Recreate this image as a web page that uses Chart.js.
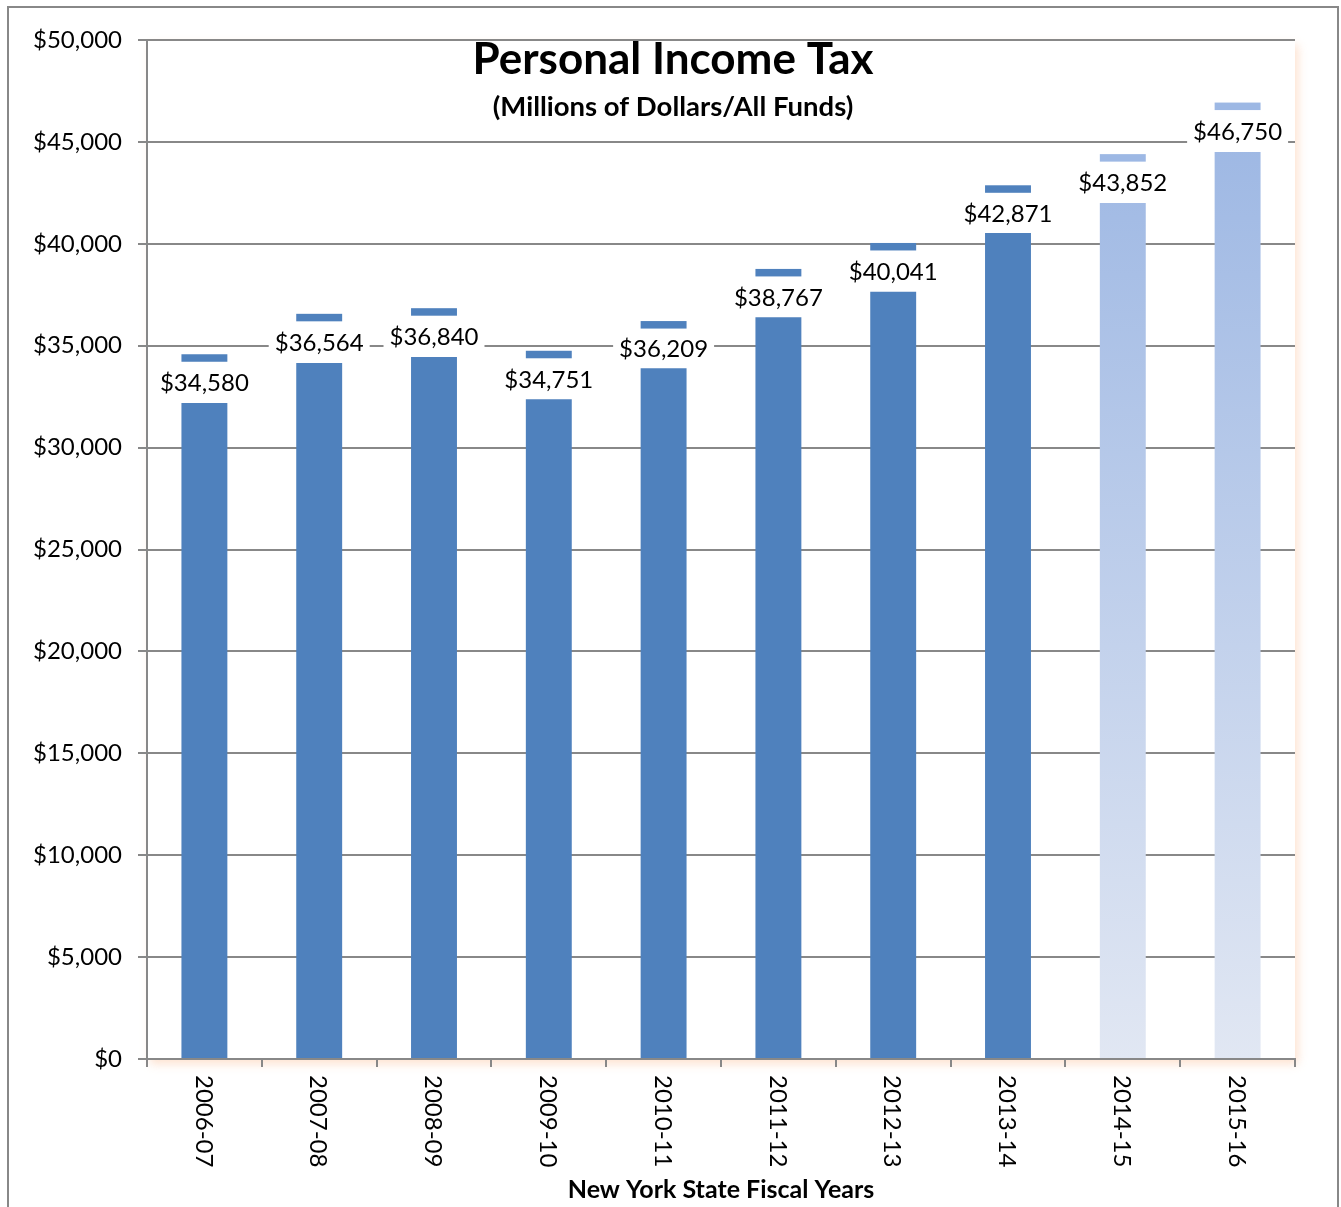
<!DOCTYPE html>
<html>
<head>
<meta charset="utf-8">
<script src="https://cdn.jsdelivr.net/npm/chart.js@4.4.1/dist/chart.umd.min.js"></script>
<style>
  html, body { margin: 0; padding: 0; background: #fff; }
  #wrap { width: 1341px; height: 1207px; position: relative; }
</style>
</head>
<body>
<div id="wrap"><canvas id="pitChart"></canvas></div>
<script>
// fiscal years and collections (millions of dollars)
const years = ['2006-07', '2007-08', '2008-09', '2009-10', '2010-11',
               '2011-12', '2012-13', '2013-14', '2014-15', '2015-16'];
const values = [34580, 36564, 36840, 34751, 36209, 38767, 40041, 42871, 43852, 46750];
// height of the solid part of each bar
const barTops = [32190, 34150, 34450, 32370, 33890, 36390, 37650, 40530, 42000, 44500];
// level of the small cap above each bar
const capLevels = [34580, 36564, 36840, 34751, 36209, 38767, 40041, 42871, 44400, 46930];
// last two years are projections (lighter, gradient)
const projected = [false, false, false, false, false, false, false, false, true, true];
const yTicks = [0, 5000, 10000, 15000, 20000, 25000, 30000, 35000, 40000, 45000, 50000];

const FONT = 'Lato, "Open Sans", sans-serif';
const DARK = '#4f81bd';
const LIGHT = '#9db8e4';

function money(v) {
    return '$' + v.toLocaleString('en-US');
}

function barColor(ctx) {
    const i = ctx.dataIndex;
    if (!projected[i]) return DARK;
    const area = ctx.chart.chartArea;
    if (!area) return LIGHT;
    const g = ctx.chart.ctx.createLinearGradient(0, area.top, 0, area.bottom);
    g.addColorStop(0, '#97b3e2');
    g.addColorStop(1, '#e1e7f3');
    return g;
}

// white plot area with the soft peach shadow, and the outer frame
const framePlugin = {
    id: 'frame',
    beforeDraw(chart) {
        const c = chart.ctx, a = chart.chartArea;
        c.save();
        c.fillStyle = '#fff';
        c.fillRect(0, 0, chart.width, chart.height);
        c.shadowColor = 'rgba(250, 190, 150, 0.45)';
        c.shadowBlur = 9;
        c.shadowOffsetX = 3;
        c.shadowOffsetY = 5;
        c.fillRect(a.left, a.top, a.right - a.left, a.bottom - a.top);
        c.restore();
        c.save();
        c.strokeStyle = '#888';
        c.lineWidth = 2;
        c.strokeRect(8, 7, 1330, 1215);
        c.restore();
    }
};

// caps, value labels, rotated year labels and titles
const labelPlugin = {
    id: 'labels',
    afterDatasetsDraw(chart) {
        const c = chart.ctx;
        const ys = chart.scales.y, xs = chart.scales.x;
        const meta = chart.getDatasetMeta(0);
        c.save();
        meta.data.forEach((bar, i) => {
            const w = bar.width;
            const capTop = ys.getPixelForValue(capLevels[i]);
            const capH = 7.5;
            c.fillStyle = projected[i] ? LIGHT : DARK;
            c.fillRect(bar.x - w / 2, capTop, w, capH);

            const top = ys.getPixelForValue(barTops[i]);
            const ly = (capTop + capH + top) / 2 + 1;
            const txt = money(values[i]);
            c.font = '24px ' + FONT;
            const tw = c.measureText(txt).width;
            c.fillStyle = '#fff';
            c.fillRect(bar.x - tw / 2 - 6, ly - 13, tw + 12, 26);
            c.fillStyle = '#000';
            c.textAlign = 'center';
            c.textBaseline = 'middle';
            c.fillText(txt, bar.x, ly);
        });

        // year labels, rotated clockwise
        c.font = '24px ' + FONT;
        c.fillStyle = '#000';
        years.forEach((yr, i) => {
            const x = xs.getPixelForValue(i);
            c.save();
            c.translate(x, xs.top + 16);
            c.rotate(Math.PI / 2);
            c.textAlign = 'left';
            c.textBaseline = 'middle';
            c.fillText(yr, 0, 1);
            c.restore();
        });

        c.textAlign = 'center';
        c.textBaseline = 'middle';
        c.font = 'bold 25px ' + FONT;
        c.fillText('New York State Fiscal Years', (xs.left + xs.right) / 2, 1190);

        c.font = 'bold 44px ' + FONT;
        c.fillText('Personal Income Tax', 673, 60);
        c.font = 'bold 27.5px ' + FONT;
        c.fillText('(Millions of Dollars/All Funds)', 673, 107);
        c.restore();
    }
};

const ctx = document.getElementById('pitChart').getContext('2d');
const chart = new Chart(ctx, {
    type: 'bar',
    data: {
        labels: years,
        datasets: [{
            label: 'Personal Income Tax',
            data: barTops,
            backgroundColor: barColor,
            borderWidth: 0,
            barPercentage: 0.4,
            categoryPercentage: 1.0
        }]
    },
    options: {
        responsive: true,
        maintainAspectRatio: false,
        animation: false,
        layout: { padding: { top: 40, right: 46, left: 0, bottom: 0 } },
        plugins: {
            legend: { display: false },
            tooltip: { enabled: false }
        },
        scales: {
            x: {
                grid: {
                    offset: true,
                    drawOnChartArea: false,
                    drawTicks: true,
                    tickLength: 8,
                    color: '#888',
                    lineWidth: 2
                },
                border: { display: true, color: '#888', width: 2 },
                ticks: { display: false },
                afterFit(scale) { scale.height = 148; }
            },
            y: {
                min: 0,
                max: 50000,
                afterBuildTicks(scale) {
                    scale.ticks = yTicks.map(v => ({ value: v }));
                },
                grid: {
                    color: '#888',
                    lineWidth: 2,
                    tickLength: 9
                },
                border: { display: true, color: '#888', width: 2 },
                ticks: {
                    padding: 16,
                    color: '#000',
                    font: { family: FONT, size: 24 },
                    callback: v => money(v)
                },
                afterFit(scale) { scale.width = 147; }
            }
        }
    },
    plugins: [framePlugin, labelPlugin]
});
</script>
</body>
</html>
